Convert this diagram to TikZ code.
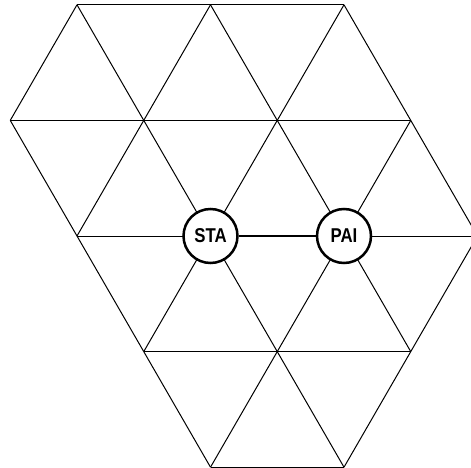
\documentclass[tikz,border=0pt]{standalone}
\usepackage{fontspec}
\newfontfamily\lblfont[FakeStretch=0.84]{Liberation Sans}
\begin{document}
\begin{tikzpicture}[x=1pt,y=-1pt,
  edge/.style={line width=1pt,black},
  station/.style={circle,draw=black,line width=2.5pt,fill=white,minimum size=54pt,inner sep=0pt,font=\lblfont\bfseries\fontsize{20}{20}\selectfont}]
\useasboundingbox (0,0) rectangle (471,468);
\begin{scope}
\clip (0,0) rectangle (471,468);
% rows
\coordinate (A0) at (77,4.8);
\coordinate (A1) at (210.5,4.8);
\coordinate (A2) at (344,4.8);
\coordinate (B0) at (10.25,120.4);
\coordinate (B1) at (143.75,120.4);
\coordinate (B2) at (277.25,120.4);
\coordinate (B3) at (410.75,120.4);
\coordinate (C0) at (77,236);
\coordinate (C1) at (210.5,236);
\coordinate (C2) at (344,236);
\coordinate (C3) at (477.5,236);
\coordinate (D0) at (143.75,351.6);
\coordinate (D1) at (277.25,351.6);
\coordinate (D2) at (410.75,351.6);
\coordinate (E0) at (210.5,467.2);
\coordinate (E1) at (344,467.2);
\draw[edge] (A0) -- (A2);
\draw[edge] (A0) -- (B0);
\draw[edge] (A0) -- (B1);
\draw[edge] (A1) -- (B1);
\draw[edge] (A1) -- (B2);
\draw[edge] (A2) -- (B2);
\draw[edge] (A2) -- (B3);
\draw[edge] (B0) -- (B3);
\draw[edge] (B0) -- (C0);
\draw[edge] (B1) -- (C0);
\draw[edge] (B1) -- (C1);
\draw[edge] (B2) -- (C1);
\draw[edge] (B2) -- (C2);
\draw[edge] (B3) -- (C2);
\draw[edge] (B3) -- (C3);
\draw[edge] (C0) -- (C1);
\draw[edge] (C2) -- (C3);
\draw[edge] (C0) -- (D0);
\draw[edge] (C1) -- (D0);
\draw[edge] (C1) -- (D1);
\draw[edge] (C2) -- (D1);
\draw[edge] (C2) -- (D2);
\draw[edge] (C3) -- (D2);
\draw[edge] (D0) -- (D2);
\draw[edge] (D0) -- (E0);
\draw[edge] (D1) -- (E0);
\draw[edge] (D1) -- (E1);
\draw[edge] (D2) -- (E1);
\draw[edge] (E0) -- (E1);
\end{scope}
\node[station] (sta) at (C1) {STA};
\node[station] (pai) at (C2) {PAI};
\draw[line width=1.6pt] (sta) -- (pai);
\end{tikzpicture}
\end{document}
